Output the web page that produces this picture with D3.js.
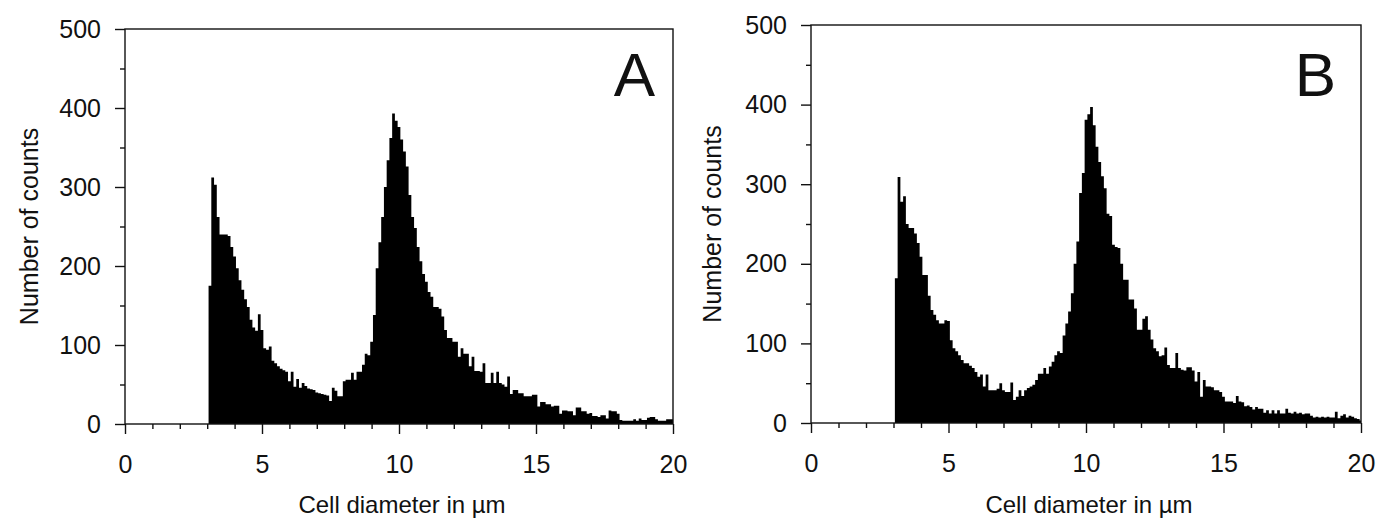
<!DOCTYPE html>
<html>
<head>
<script src="https://cdn.jsdelivr.net/npm/d3@7"></script>
<style>
  body { margin: 0; background: #fff; }
  text { font-family: Arial, "Liberation Sans", sans-serif; fill: #111; }
</style>
</head>
<body>
<svg id="chart" width="1378" height="521"></svg>
<script>
// histogram bins: 0.1 um wide, first bin starts at 3.05 um
const binStart = 3.05;
const binWidth = 0.1;

// counts per bin, rows of 10 bins (3.05.., 4.05.., ...)
const countsA = [
  175, 312, 303, 262, 240, 240, 240, 238, 224, 212,
  197, 182, 170, 158, 148, 132, 122, 118, 139, 119,
  96, 94, 98, 80, 77, 73, 70, 68, 66, 54,
  66, 47, 57, 46, 52, 48, 45, 44, 43, 40,
  39, 38, 37, 36, 29, 46, 42, 35, 35, 54,
  56, 56, 65, 56, 66, 66, 75, 89, 87, 104,
  138, 197, 230, 262, 300, 334, 362, 393, 384, 376,
  360, 345, 326, 290, 262, 248, 224, 206, 190, 180,
  167, 161, 148, 148, 146, 136, 119, 109, 109, 104,
  104, 85, 96, 89, 89, 73, 85, 67, 67, 66,
  77, 52, 52, 65, 52, 66, 52, 50, 47, 60,
  38, 43, 43, 39, 39, 35, 35, 35, 37, 37,
  22, 28, 28, 25, 25, 22, 23, 23, 13, 17,
  17, 16, 16, 11, 21, 21, 16, 16, 13, 14,
  10, 10, 9, 11, 11, 7, 17, 16, 16, 13,
  5, 4, 4, 4, 4, 6, 4, 7, 5, 5,
  8, 9, 9, 6, 4, 4, 4, 6, 6, 6
];

const countsB = [
  182, 309, 278, 285, 250, 245, 245, 238, 226, 209,
  186, 186, 160, 142, 136, 129, 125, 125, 129, 128,
  104, 94, 90, 85, 79, 75, 75, 72, 69, 64,
  58, 61, 46, 61, 41, 41, 41, 43, 50, 41,
  39, 39, 51, 29, 33, 41, 34, 41, 44, 46,
  48, 54, 62, 62, 69, 62, 71, 77, 85, 90,
  88, 110, 125, 140, 163, 200, 228, 289, 314, 381,
  388, 397, 374, 347, 328, 310, 295, 263, 260, 224,
  221, 220, 200, 180, 180, 155, 155, 144, 117, 117,
  131, 134, 117, 105, 94, 90, 84, 85, 95, 73,
  69, 69, 88, 69, 67, 66, 70, 70, 66, 52,
  64, 33, 54, 46, 46, 45, 41, 41, 39, 33,
  27, 27, 27, 25, 34, 27, 26, 21, 22, 20,
  17, 20, 18, 18, 13, 16, 12, 16, 12, 16,
  12, 12, 18, 13, 12, 14, 12, 13, 11, 12,
  12, 9, 7, 8, 7, 8, 7, 8, 7, 7,
  14, 6, 9, 11, 7, 9, 8, 6, 5, 3
];

const xTicks = [0, 5, 10, 15, 20];
const xMinorTicks = [1, 2, 3, 4, 6, 7, 8, 9, 11, 12, 13, 14, 16, 17, 18, 19];
const yTicks = [0, 100, 200, 300, 400, 500];
const yMinorTicks = [50, 150, 250, 350, 450];
const xTitle = "Cell diameter in µm";
const yTitle = "Number of counts";

const svg = d3.select("#chart");

const panels = [
  { letter: "A", counts: countsA, left: 125, right: 673, top: 29, bottom: 424, yTitleX: 29, letterPad: 18 },
  { letter: "B", counts: countsB, left: 811, right: 1361, top: 25, bottom: 423, yTitleX: 712, letterPad: 25 }
];

panels.forEach(drawPanel);

function drawPanel(p) {
  const x = d3.scaleLinear().domain([0, 20]).range([p.left, p.right]);
  const y = d3.scaleLinear().domain([0, 500]).range([p.bottom, p.top]);
  const g = svg.append("g");

  // step outline of the histogram, last point closes the final bin
  const pts = p.counts.map((c, i) => ({ x: binStart + i * binWidth, count: c }));
  pts.push({ x: 20, count: p.counts[p.counts.length - 1] });

  const area = d3.area()
    .curve(d3.curveStepAfter)
    .x(d => x(d.x))
    .y0(y(0))
    .y1(d => y(d.count));

  g.append("path")
    .datum(pts)
    .attr("d", area)
    .attr("fill", "#000");

  // y axis, major + minor ticks
  g.append("g")
    .attr("transform", "translate(" + p.left + ",0)")
    .call(d3.axisLeft(y).tickValues(yTicks).tickSize(10).tickPadding(14));
  g.append("g")
    .attr("transform", "translate(" + p.left + ",0)")
    .call(d3.axisLeft(y).tickValues(yMinorTicks).tickSize(5).tickFormat(""));

  // x axis, major + minor ticks
  g.append("g")
    .attr("transform", "translate(0," + p.bottom + ")")
    .call(d3.axisBottom(x).tickValues(xTicks).tickSize(10).tickPadding(21));
  g.append("g")
    .attr("transform", "translate(0," + p.bottom + ")")
    .call(d3.axisBottom(x).tickValues(xMinorTicks).tickSize(5).tickFormat(""));

  g.selectAll(".domain").remove();
  g.selectAll(".tick line").attr("stroke", "#111").attr("stroke-width", 1.4);
  g.selectAll(".tick text").style("font-size", "25px").attr("fill", "#111");

  // frame
  g.append("rect")
    .attr("x", p.left)
    .attr("y", p.top)
    .attr("width", p.right - p.left)
    .attr("height", p.bottom - p.top)
    .attr("fill", "none")
    .attr("stroke", "#111")
    .attr("stroke-width", 1.4);

  g.append("text")
    .attr("x", (p.left + p.right) / 2 + 3)
    .attr("y", 513)
    .attr("text-anchor", "middle")
    .style("font-size", "24px")
    .text(xTitle);

  g.append("text")
    .attr("transform", "translate(" + p.yTitleX + "," + (p.top + p.bottom) / 2 + ") rotate(-90)")
    .attr("text-anchor", "middle")
    .attr("dy", "0.35em")
    .style("font-size", "25px")
    .text(yTitle);

  g.append("text")
    .attr("x", p.right - p.letterPad)
    .attr("y", 96)
    .attr("text-anchor", "end")
    .style("font-size", "62px")
    .text(p.letter);
}
</script>
</body>
</html>
